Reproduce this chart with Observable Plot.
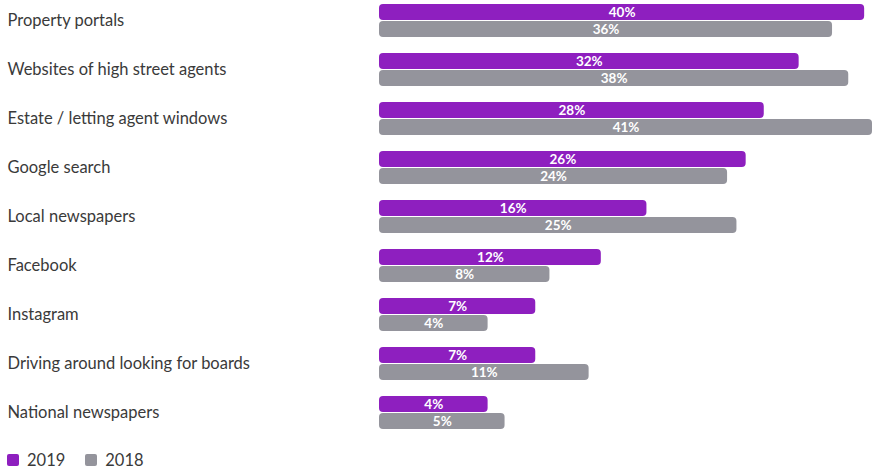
<!DOCTYPE html>
<html>
<head>
<meta charset="utf-8">
<script src="https://cdn.jsdelivr.net/npm/d3@7"></script>
<script src="https://cdn.jsdelivr.net/npm/@observablehq/plot@0.6"></script>
<style>
  body { margin: 0; background: #fff; font-family: Lato, "Noto Sans", sans-serif; }
  #chart svg { display: block; }
  .legend { display: flex; align-items: center; height: 24px; margin-top: 2px; padding-left: 7px; font-size: 16.5px; color: #3a3a3a; }
  .legend .item { display: flex; align-items: center; margin-right: 20px; }
  .legend .sw { width: 12px; height: 12px; border-radius: 2px; margin-right: 8px; }
</style>
</head>
<body>
<div id="chart"></div>
<div class="legend" id="legend"></div>
<script>
const categories = [
  "Property portals",
  "Websites of high street agents",
  "Estate / letting agent windows",
  "Google search",
  "Local newspapers",
  "Facebook",
  "Instagram",
  "Driving around looking for boards",
  "National newspapers"
];
const series = ["2019", "2018"];
const values2019 = [40, 32, 28, 26, 16, 12, 7, 7, 4];
const values2018 = [36, 38, 41, 24, 25, 8, 4, 11, 5];
const colors = ["#8e1fbf", "#94949c"];

const rows = categories.flatMap((category, i) => [
  {category, year: series[0], value: values2019[i]},
  {category, year: series[1], value: values2018[i]}
]);
const labels = categories.map(category => ({category}));

const xOptions = {type: "pow", exponent: 0.65, domain: [0, 41], range: [379, 872]};
const xs = Plot.scale({x: xOptions});
// horizontal centre of a bar, in data units
const mid = v => xs.invert((xs.apply(0) + xs.apply(v)) / 2);

const chart = Plot.plot({
  width: 873,
  height: 446,
  marginLeft: 379,
  marginRight: 1,
  marginTop: 3,
  marginBottom: 16,
  style: {fontFamily: "Lato, 'Noto Sans', sans-serif", background: "transparent"},
  x: {...xOptions, axis: null},
  fy: {domain: categories, axis: null, paddingInner: 0.33, paddingOuter: 0},
  y: {domain: series, axis: null, paddingInner: 0.06, paddingOuter: 0},
  color: {domain: series, range: colors},
  marks: [
    Plot.barX(rows, {fy: "category", y: "year", x: "value", fill: "year", rx: 4}),
    Plot.text(rows, {
      fy: "category", y: "year", x: d => mid(d.value),
      text: d => d.value + "%", fill: "white", fontWeight: "bold", fontSize: 13.5
    }),
    Plot.text(labels, {
      fy: "category", text: "category", frameAnchor: "left", textAnchor: "start",
      dx: -372, fontSize: 16.5, fill: "#3a3a3a"
    })
  ]
});
document.getElementById("chart").appendChild(chart);

const legend = document.getElementById("legend");
series.forEach((s, i) => {
  const item = document.createElement("div");
  item.className = "item";
  const sw = document.createElement("span");
  sw.className = "sw";
  sw.style.background = colors[i];
  const t = document.createElement("span");
  t.textContent = s;
  item.append(sw, t);
  legend.appendChild(item);
});
</script>
</body>
</html>
